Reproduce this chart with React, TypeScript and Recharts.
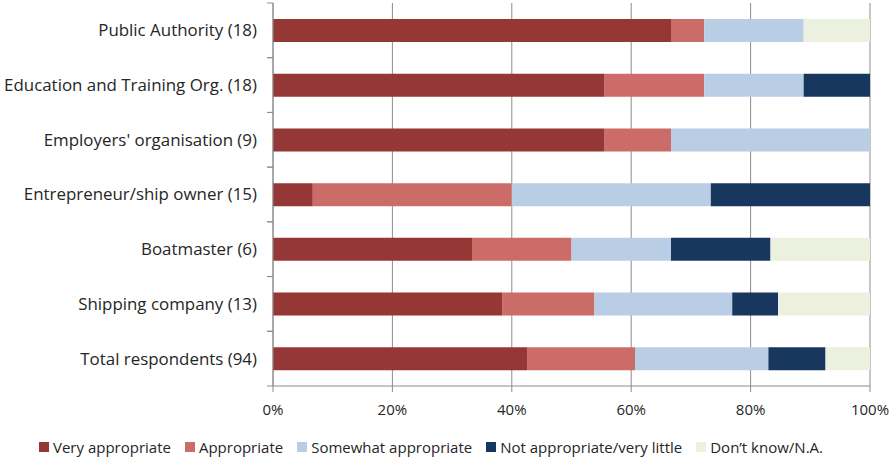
import React from "react";
import {
  Bar,
  BarChart,
  CartesianGrid,
  Legend,
  XAxis,
  YAxis,
} from "recharts";

// respondent groups, top to bottom
const groups = [
  "Public Authority (18)",
  "Education and Training Org. (18)",
  "Employers' organisation (9)",
  "Entrepreneur/ship owner (15)",
  "Boatmaster (6)",
  "Shipping company (13)",
  "Total respondents (94)",
];

// answer counts per group (stacked as shares of 100%)
const veryAppropriate = [12, 10, 5, 1, 2, 5, 40];
const appropriate = [1, 3, 1, 5, 1, 2, 17];
const somewhatAppropriate = [3, 3, 3, 5, 1, 3, 21];
const notAppropriate = [0, 2, 0, 4, 1, 1, 9];
const dontKnow = [2, 0, 0, 0, 1, 2, 7];

const xTicks = [0, 0.2, 0.4, 0.6, 0.8, 1];

const series = [
  { key: "very", name: "Very appropriate", color: "#953735" },
  { key: "appr", name: "Appropriate", color: "#CB6C69" },
  { key: "some", name: "Somewhat appropriate", color: "#B9CDE5" },
  { key: "not", name: "Not appropriate/very little", color: "#17375E" },
  { key: "dk", name: "Don\u2019t know/N.A.", color: "#EBF1DE" },
];

const rows = groups.map((group, i) => ({
  group,
  very: veryAppropriate[i],
  appr: appropriate[i],
  some: somewhatAppropriate[i],
  not: notAppropriate[i],
  dk: dontKnow[i],
}));

const FONT = "'Open Sans', sans-serif";
const TEXT = "#262626";
const AXIS = "#8C8C8C";

const WIDTH = 893;
const HEIGHT = 459;
const MARGIN = { top: 3, right: 23, bottom: 0, left: 0 };
const Y_AXIS_W = 273;
const X_AXIS_H = 49;
const LEGEND_H = 24;
const BAND = (HEIGHT - MARGIN.top - X_AXIS_H - LEGEND_H) / groups.length;
const AXIS_X = MARGIN.left + Y_AXIS_W;

// category label centred in its band, tick marks on the band edges
function GroupTick(props: any) {
  const { y, payload } = props;
  return (
    <g>
      <line x1={AXIS_X - 6} x2={AXIS_X} y1={y - BAND / 2} y2={y - BAND / 2} stroke={AXIS} />
      <line x1={AXIS_X - 6} x2={AXIS_X} y1={y + BAND / 2} y2={y + BAND / 2} stroke={AXIS} />
      <text
        x={AXIS_X - 16}
        y={y}
        dy="0.35em"
        textAnchor="end"
        fill={TEXT}
        fontSize={16.9}
        fontFamily={FONT}
      >
        {payload.value}
      </text>
    </g>
  );
}

function LegendRow() {
  return (
    <div
      style={{
        display: "flex",
        justifyContent: "center",
        alignItems: "center",
        height: LEGEND_H,
        fontFamily: FONT,
        fontSize: 15,
        color: TEXT,
        paddingLeft: 6,
      }}
    >
      {series.map((s) => (
        <span key={s.key} style={{ display: "flex", alignItems: "center", marginRight: 14 }}>
          <span
            style={{
              display: "inline-block",
              width: 10,
              height: 10,
              background: s.color,
              marginRight: 4,
            }}
          />
          {s.name}
        </span>
      ))}
    </div>
  );
}

export default function App() {
  return (
    <div style={{ position: "absolute", left: 0, top: 0, background: "#fff" }}>
      <BarChart
        width={WIDTH}
        height={HEIGHT}
        data={rows}
        layout="vertical"
        stackOffset="expand"
        margin={MARGIN}
        barSize={23}
      >
        <CartesianGrid horizontal={false} stroke={AXIS} />
        <XAxis
          type="number"
          domain={[0, 1]}
          ticks={xTicks}
          tickFormatter={(v: number) => `${Math.round(v * 100)}%`}
          height={X_AXIS_H}
          stroke={AXIS}
          tickSize={6}
          tickMargin={12}
          tick={{ fill: TEXT, fontSize: 15, fontFamily: FONT }}
        />
        <YAxis
          type="category"
          dataKey="group"
          width={Y_AXIS_W}
          stroke={AXIS}
          tickLine={false}
          tickSize={0}
          tick={<GroupTick />}
          interval={0}
        />
        <Legend
          verticalAlign="bottom"
          wrapperStyle={{ height: LEGEND_H }}
          content={() => <LegendRow />}
        />
        {series.map((s) => (
          <Bar
            key={s.key}
            dataKey={s.key}
            name={s.name}
            stackId="all"
            fill={s.color}
            isAnimationActive={false}
          />
        ))}
      </BarChart>
    </div>
  );
}
